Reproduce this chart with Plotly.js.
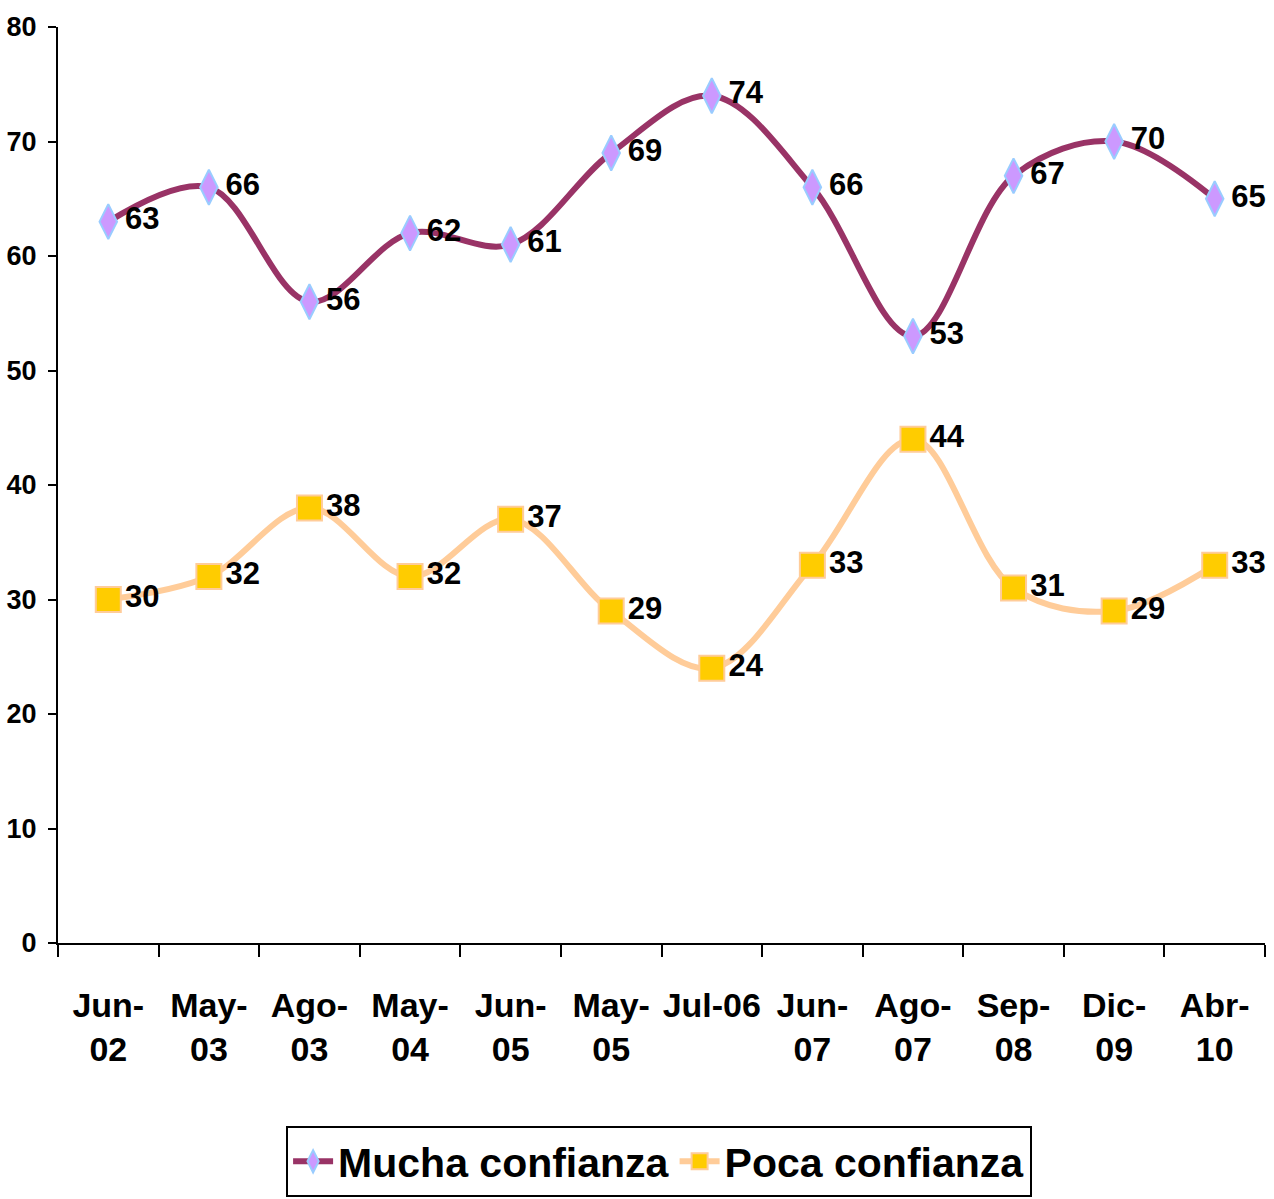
<!DOCTYPE html>
<html>
<head>
<meta charset="utf-8">
<script src="https://cdn.plot.ly/plotly-3.0.1.min.js"></script>
<style>
html,body{margin:0;padding:0;background:#fff;}
#chart{width:1274px;height:1199px;}
</style>
</head>
<body>
<div id="chart"></div>
<script>
const categories = ["Jun-<br>02","May-<br>03","Ago-<br>03","May-<br>04","Jun-<br>05","May-<br>05","Jul-06","Jun-<br>07","Ago-<br>07","Sep-<br>08","Dic-<br>09","Abr-<br>10"];
const mucha = [63,66,56,62,61,69,74,66,53,67,70,65];
const poca = [30,32,38,32,37,29,24,33,44,31,29,33];
const seriesNames = ["Mucha confianza","Poca confianza"];

const FONT = "'Liberation Sans', Arial, sans-serif";

const traces = [
  {
    x: categories, y: mucha, name: seriesNames[0], type: 'scatter', mode: 'lines+markers+text',
    line: {color: '#993366', width: 6, shape: 'spline', smoothing: 1},
    marker: {symbol: 'diamond-tall', size: 25, color: '#CC99FF', line: {color: '#99CCFF', width: 2}},
    text: mucha.map(String), textposition: 'middle right',
    textfont: {family: FONT, size: 31, color: '#000', weight: 'bold'},
    cliponaxis: false
  },
  {
    x: categories, y: poca, name: seriesNames[1], type: 'scatter', mode: 'lines+markers+text',
    line: {color: '#FFCC99', width: 6, shape: 'spline', smoothing: 1},
    marker: {symbol: 'square', size: 25, color: '#FFCC00', line: {color: '#FFCC99', width: 2}},
    text: poca.map(String), textposition: 'middle right',
    textfont: {family: FONT, size: 31, color: '#000', weight: 'bold'},
    cliponaxis: false
  }
];

const layout = {
  width: 1274, height: 1199,
  margin: {l: 58, r: 9, t: 27, b: 256, autoexpand: false},
  paper_bgcolor: '#fff', plot_bgcolor: '#fff',
  font: {family: FONT, color: '#000', weight: 'bold'},
  showlegend: true,
  xaxis: {
    type: 'category', range: [-0.5, 11.5], showgrid: false, zeroline: false,
    showline: true, linecolor: '#000', linewidth: 2,
    ticks: 'outside', tickson: 'boundaries', ticklen: 12, tickwidth: 2, tickcolor: '#000',
    tickfont: {family: FONT, size: 34, color: '#000', weight: 'bold'},
    tickangle: 0, automargin: false,
    ticklabelstandoff: 31
  },
  yaxis: {
    range: [0, 80], dtick: 10, showgrid: false, zeroline: false,
    showline: true, linecolor: '#000', linewidth: 2,
    ticks: 'outside', ticklen: 8, tickwidth: 2, tickcolor: '#000',
    tickfont: {family: FONT, size: 27, color: '#000', weight: 'bold'},
    automargin: false,
    ticklabelstandoff: 6
  },
  legend: {
    orientation: 'h', x: 0.498, xanchor: 'center', y: -0.2, yanchor: 'top',
    bordercolor: '#000', borderwidth: 2, bgcolor: '#fff',
    font: {family: FONT, size: 41, color: '#000', weight: 'bold'},
    itemwidth: 40
  }
};

Plotly.newPlot('chart', traces, layout, {displayModeBar: false});
</script>
</body>
</html>
